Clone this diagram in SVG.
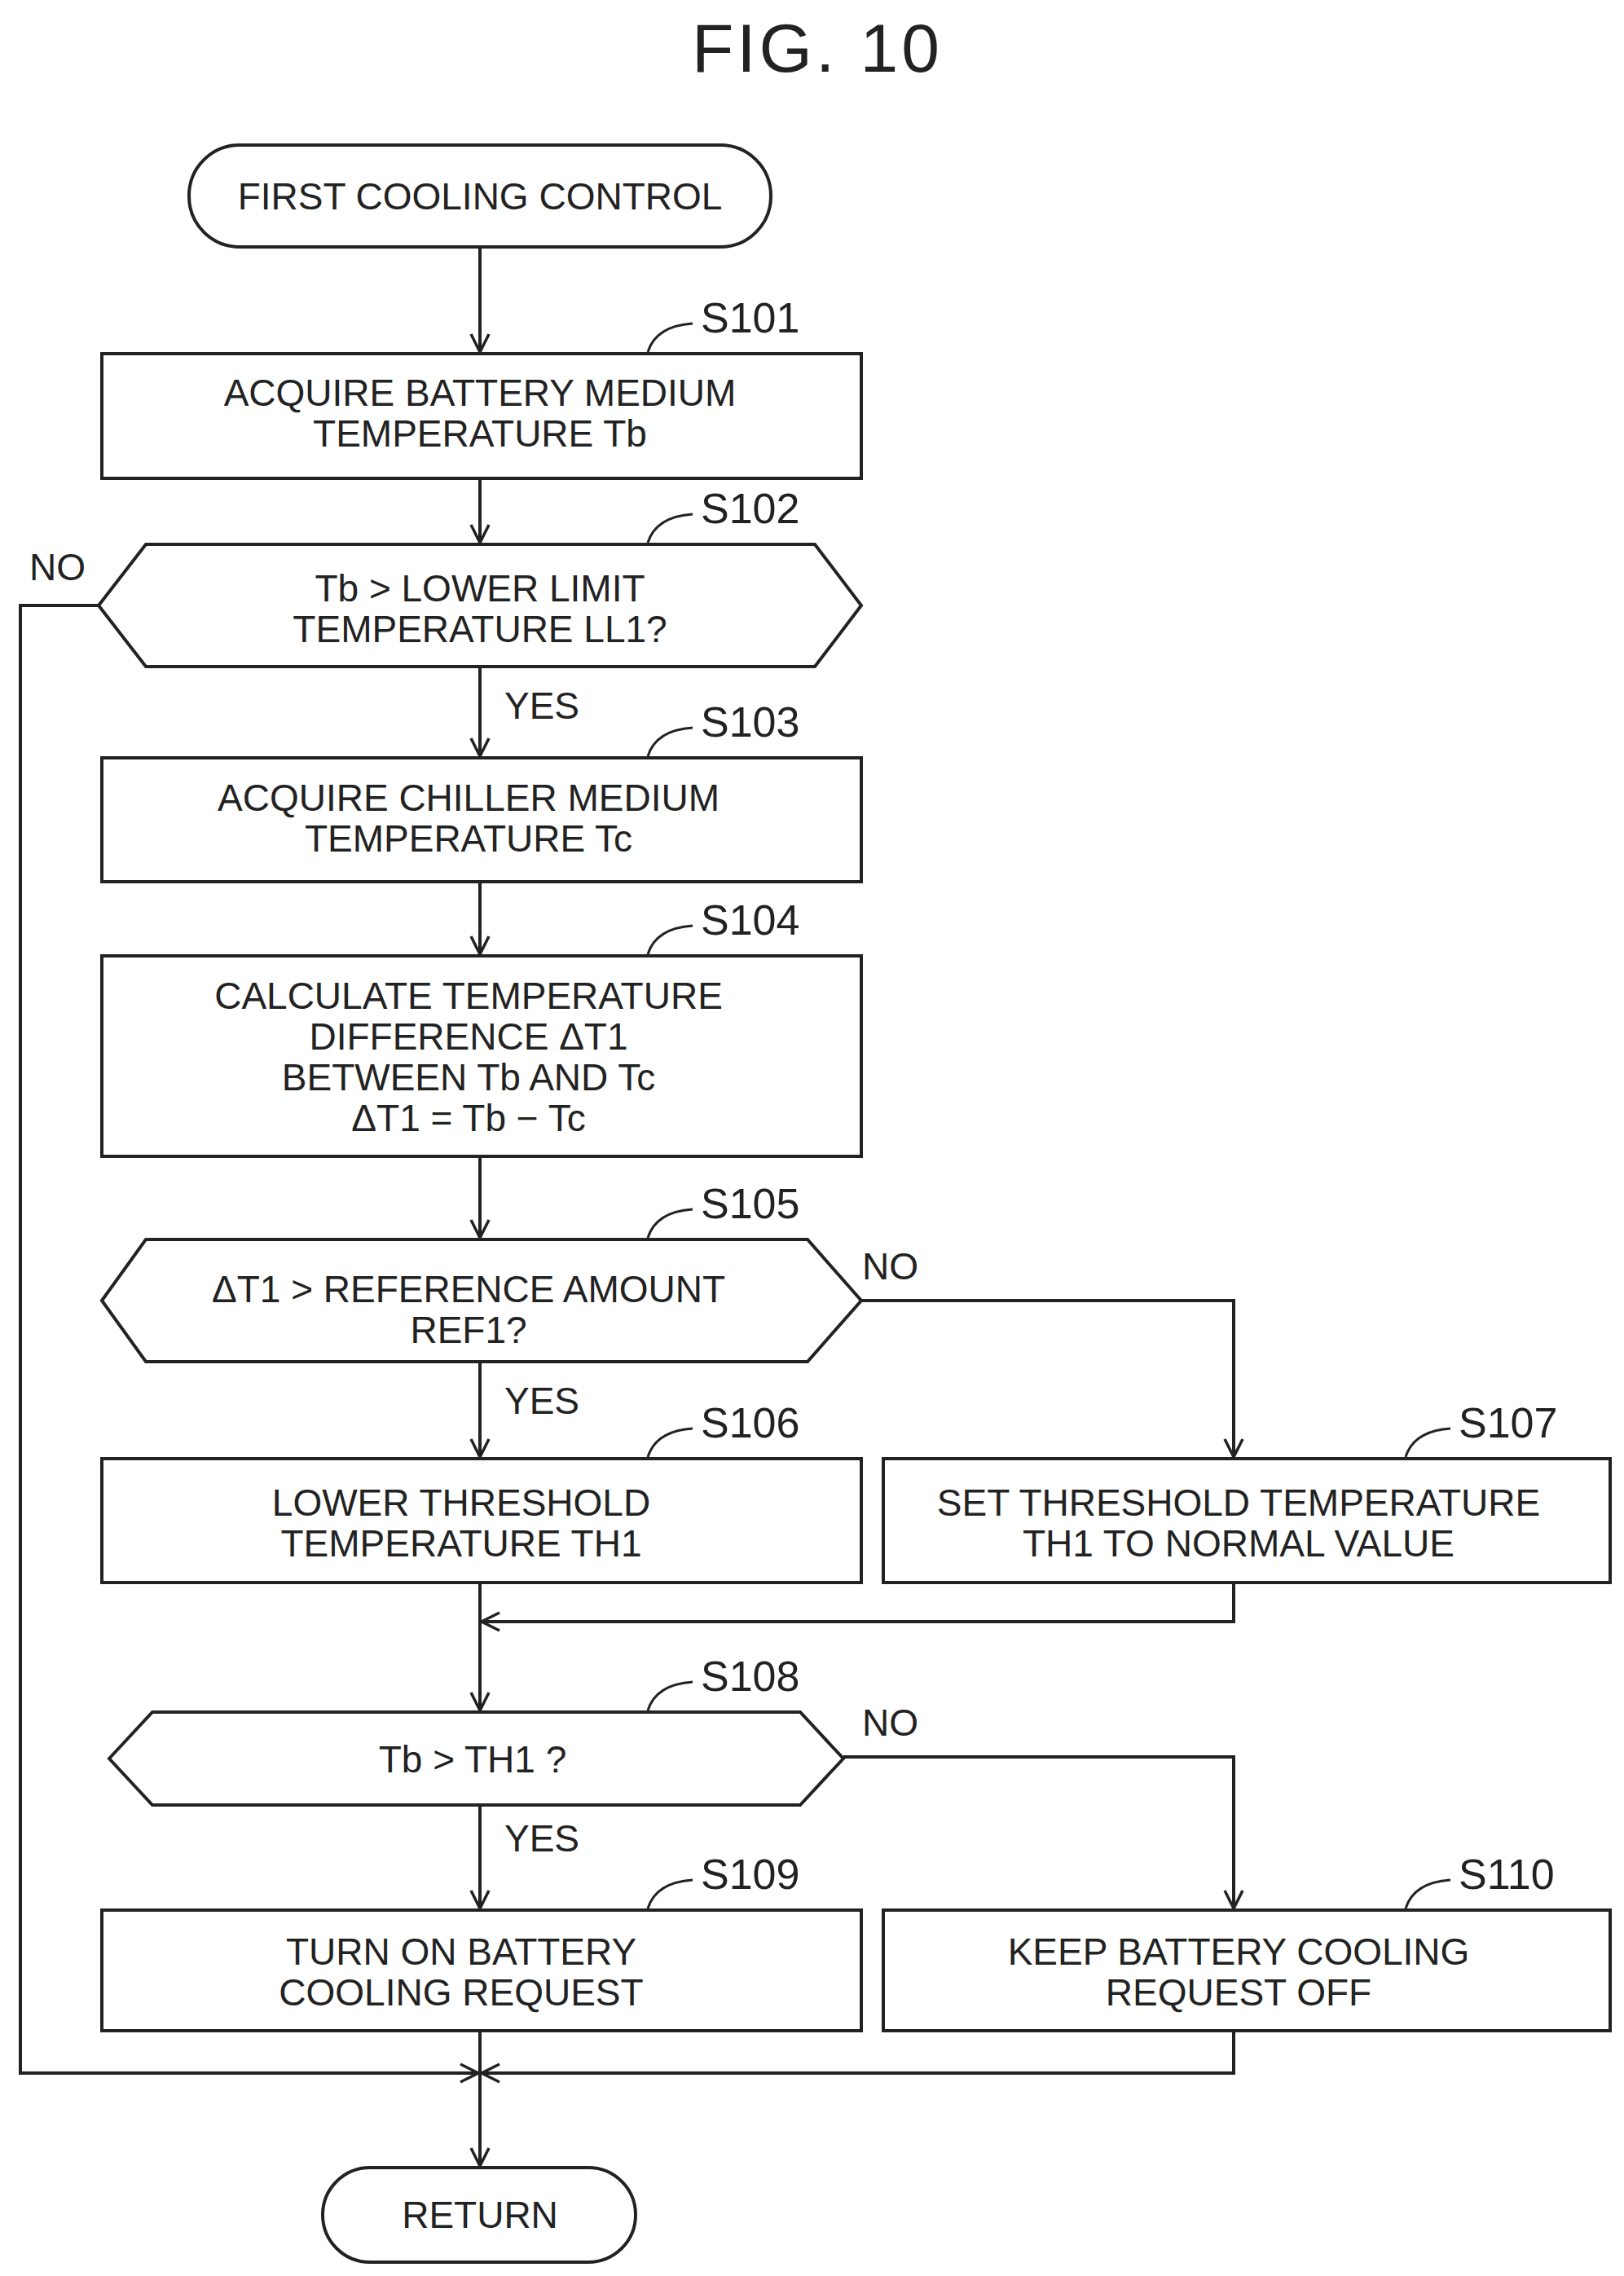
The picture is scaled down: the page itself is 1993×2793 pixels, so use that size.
<svg xmlns="http://www.w3.org/2000/svg" width="1993" height="2793" viewBox="0 0 1993 2793">
<style>
.s{fill:#fff;stroke:#222;stroke-width:4}
.l{fill:none;stroke:#222;stroke-width:4}
.c{fill:none;stroke:#222;stroke-width:3}
.t{font-family:"Liberation Sans",Arial,sans-serif;font-size:46px;fill:#222;text-anchor:middle}
.lb{font-family:"Liberation Sans",Arial,sans-serif;font-size:52px;fill:#222}
.y{font-family:"Liberation Sans",Arial,sans-serif;font-size:46px;fill:#222}
</style>
<defs>
<marker id="a" markerWidth="28" markerHeight="28" refX="25" refY="14" orient="auto" markerUnits="userSpaceOnUse">
<path d="M3,3 L25,14 L3,25" fill="none" stroke="#222" stroke-width="3.5"/>
</marker>
</defs>
<rect width="1993" height="2793" fill="#fff"/>
<text x="1003" y="88" class="t" style="font-size:84px;letter-spacing:4px">FIG. 10</text>
<g id="connectors">
<path class="l" d="M589,303 V432" marker-end="url(#a)"/>
<path class="l" d="M589,587 V666" marker-end="url(#a)"/>
<path class="l" d="M589,818 V928" marker-end="url(#a)"/>
<path class="l" d="M589,1082 V1171" marker-end="url(#a)"/>
<path class="l" d="M589,1419 V1519" marker-end="url(#a)"/>
<path class="l" d="M589,1671 V1788" marker-end="url(#a)"/>
<path class="l" d="M1057,1596 H1514 V1788" marker-end="url(#a)"/>
<path class="l" d="M589,1942 V2099" marker-end="url(#a)"/>
<path class="l" d="M1514,1942 V1990 H591" marker-end="url(#a)"/>
<path class="l" d="M589,2215 V2342" marker-end="url(#a)"/>
<path class="l" d="M1035,2156 H1514 V2342" marker-end="url(#a)"/>
<path class="l" d="M121,743 H25 V2544 H587" marker-end="url(#a)"/>
<path class="l" d="M1514,2492 V2544 H591" marker-end="url(#a)"/>
<path class="l" d="M589,2492 V2658" marker-end="url(#a)"/>
<text class="y" x="36" y="712">NO</text>
<text class="y" x="619" y="882">YES</text>
<text class="y" x="1058" y="1570">NO</text>
<text class="y" x="619" y="1735">YES</text>
<text class="y" x="1058" y="2130">NO</text>
<text class="y" x="619" y="2272">YES</text>
</g>
<g id="start"><rect class="s" x="232" y="178" width="714" height="125" rx="62"/><text class="t" x="589" y="257">FIRST COOLING CONTROL</text></g>
<g id="S101"><rect class="s" x="125" y="434" width="932" height="153"/><text class="t" x="589" y="498">ACQUIRE BATTERY MEDIUM</text><text class="t" x="589" y="548">TEMPERATURE Tb</text>
<path class="c" d="M795,432 Q805,400 850,397"/><text class="lb" x="860" y="408">S101</text></g>
<g id="S102"><polygon class="s" points="121,743 179,668 1000,668 1057,743 1000,818 179,818"/><text class="t" x="589" y="738">Tb &gt; LOWER LIMIT</text><text class="t" x="589" y="788">TEMPERATURE LL1?</text>
<path class="c" d="M795,666 Q805,634 850,631"/><text class="lb" x="860" y="642">S102</text></g>
<g id="S103"><rect class="s" x="125" y="930" width="932" height="152"/><text class="t" x="575" y="995">ACQUIRE CHILLER MEDIUM</text><text class="t" x="575" y="1045">TEMPERATURE Tc</text>
<path class="c" d="M795,928 Q805,896 850,893"/><text class="lb" x="860" y="904">S103</text></g>
<g id="S104"><rect class="s" x="125" y="1173" width="932" height="246"/>
<text class="t" x="575" y="1238">CALCULATE TEMPERATURE</text><text class="t" x="575" y="1288">DIFFERENCE ΔT1</text><text class="t" x="575" y="1338">BETWEEN Tb AND Tc</text><text class="t" x="575" y="1388">ΔT1 = Tb − Tc</text>
<path class="c" d="M795,1171 Q805,1139 850,1136"/><text class="lb" x="860" y="1147">S104</text></g>
<g id="S105"><polygon class="s" points="125,1596 179,1521 991,1521 1057,1596 991,1671 179,1671"/><text class="t" x="575" y="1598">ΔT1 &gt; REFERENCE AMOUNT</text><text class="t" x="575" y="1648">REF1?</text>
<path class="c" d="M795,1519 Q805,1487 850,1484"/><text class="lb" x="860" y="1495">S105</text></g>
<g id="S106"><rect class="s" x="125" y="1790" width="932" height="152"/><text class="t" x="566" y="1860">LOWER THRESHOLD</text><text class="t" x="566" y="1910">TEMPERATURE TH1</text>
<path class="c" d="M795,1788 Q805,1756 850,1753"/><text class="lb" x="860" y="1764">S106</text></g>
<g id="S107"><rect class="s" x="1084" y="1790" width="892" height="152"/><text class="t" x="1520" y="1860">SET THRESHOLD TEMPERATURE</text><text class="t" x="1520" y="1910">TH1 TO NORMAL VALUE</text>
<path class="c" d="M1725,1788 Q1735,1756 1780,1753"/><text class="lb" x="1790" y="1764">S107</text></g>
<g id="S108"><polygon class="s" points="134,2158 187,2101 982,2101 1035,2158 982,2215 187,2215"/><text class="t" x="580" y="2175">Tb &gt; TH1 ?</text>
<path class="c" d="M795,2099 Q805,2067 850,2064"/><text class="lb" x="860" y="2075">S108</text></g>
<g id="S109"><rect class="s" x="125" y="2344" width="932" height="148"/><text class="t" x="566" y="2411">TURN ON BATTERY</text><text class="t" x="566" y="2461">COOLING REQUEST</text>
<path class="c" d="M795,2342 Q805,2310 850,2307"/><text class="lb" x="860" y="2318">S109</text></g>
<g id="S110"><rect class="s" x="1084" y="2344" width="892" height="148"/><text class="t" x="1520" y="2411">KEEP BATTERY COOLING</text><text class="t" x="1520" y="2461">REQUEST OFF</text>
<path class="c" d="M1725,2342 Q1735,2310 1780,2307"/><text class="lb" x="1790" y="2318">S110</text></g>
<g id="return"><rect class="s" x="396" y="2660" width="384" height="116" rx="58"/><text class="t" x="589" y="2734">RETURN</text></g>
</svg>
